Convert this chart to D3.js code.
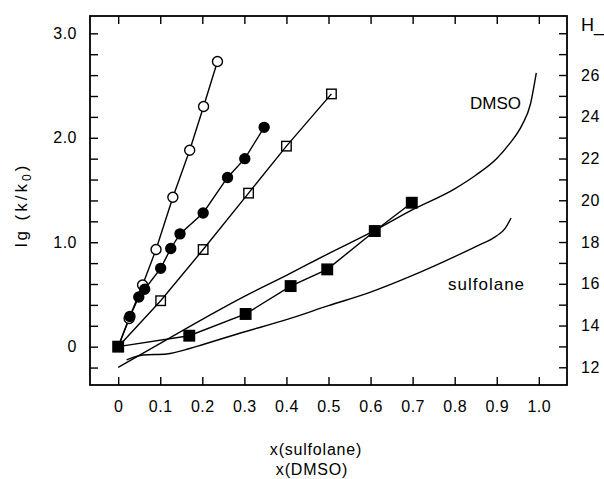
<!DOCTYPE html>
<html>
<head>
<meta charset="utf-8">
<script src="https://cdn.jsdelivr.net/npm/d3@7"></script>
<style>
  body { margin: 0; background: #fff; }
  text { font-family: "Liberation Sans", Arial, sans-serif; fill: #000; }
</style>
</head>
<body>
<div id="box"></div>
<script>
'use strict';

// axis ticks and labels
var xTicks = [0, 0.1, 0.2, 0.3, 0.4, 0.5, 0.6, 0.7, 0.8, 0.9, 1.0];
var xTickLabels = ["0", "0.1", "0.2", "0.3", "0.4", "0.5", "0.6", "0.7", "0.8", "0.9", "1.0"];
var yLeftTicks = [-0.2, 0, 0.2, 0.4, 0.6, 0.8, 1.0, 1.2, 1.4, 1.6, 1.8, 2.0, 2.2, 2.4, 2.6, 2.8, 3.0];
var yLeftMajor = [0, 1, 2, 3];
var yLeftLabels = ["0", "1.0", "2.0", "3.0"];
var yRightTicks = [12, 13, 14, 15, 16, 17, 18, 19, 20, 21, 22, 23, 24, 25, 26, 27, 28];
var yRightMajor = [12, 14, 16, 18, 20, 22, 24, 26];
var yRightLabels = ["12", "14", "16", "18", "20", "22", "24", "26"];

// lg(k/k0) series (left axis)
var openCircleX = [0, 0.026, 0.058, 0.090, 0.130, 0.170, 0.203, 0.236];
var openCircleY = [0, 0.27, 0.59, 0.93, 1.43, 1.88, 2.30, 2.73];
var filledCircleX = [0, 0.028, 0.049, 0.063, 0.101, 0.125, 0.147, 0.202, 0.260, 0.301, 0.347];
var filledCircleY = [0, 0.29, 0.475, 0.55, 0.75, 0.94, 1.08, 1.28, 1.62, 1.80, 2.10];
var openSquareX = [0, 0.101, 0.202, 0.310, 0.400, 0.507];
var openSquareY = [0, 0.44, 0.93, 1.47, 1.92, 2.42];
var filledSquareX = [0, 0.169, 0.303, 0.410, 0.497, 0.610, 0.698];
var filledSquareY = [0, 0.105, 0.313, 0.58, 0.74, 1.107, 1.378];

// H_ curves (right axis)
var hDmsoX = [0, 0.1, 0.2, 0.3, 0.4, 0.5, 0.6, 0.7, 0.8, 0.85, 0.9, 0.93, 0.96, 0.98, 0.994];
var hDmso = [12.0, 13.15, 14.3, 15.4, 16.4, 17.45, 18.45, 19.55, 20.55, 21.2, 22.0, 22.7, 23.6, 24.6, 26.1];
var hSulfolaneX = [0.02, 0.059, 0.115, 0.17, 0.2, 0.289, 0.4, 0.5, 0.6, 0.7, 0.8, 0.85, 0.9, 0.92, 0.934];
var hSulfolane = [12.36, 12.59, 12.64, 12.9, 13.08, 13.63, 14.28, 14.95, 15.6, 16.4, 17.3, 17.78, 18.3, 18.65, 19.15];

var margin = {top: 16, right: 37, bottom: 94, left: 90};
var width = 604 - margin.left - margin.right;
var height = 479 - margin.top - margin.bottom;

var svg = d3.select("#box")
  .append("svg")
    .attr("width", 604)
    .attr("height", 479)
  .append("g")
    .attr("transform", "translate(" + margin.left + "," + margin.top + ")");

var x = d3.scaleLinear().domain([-0.067, 1.067]).range([0, width]);
var y = d3.scaleLinear().domain([-0.367, 3.166]).range([height, 0]);
var yR = d3.scaleLinear().domain([11.152, 28.826]).range([height, 0]);

function labelOf(values, labels) {
  return function(d) {
    var i = values.findIndex(function(v) { return Math.abs(v - d) < 1e-6; });
    return i < 0 ? "" : labels[i];
  };
}

function styleAxis(g) {
  g.select(".domain").remove();
  g.selectAll(".tick line").attr("stroke", "#000").attr("stroke-width", 1.4);
  g.selectAll(".tick text")
    .style("font-family", '"Liberation Sans", Arial, sans-serif')
    .style("font-size", "16px")
    .style("letter-spacing", "0.5px")
    .attr("fill", "#000");
}

// bottom axis
svg.append("g")
  .attr("transform", "translate(0," + height + ")")
  .call(d3.axisBottom(x).tickValues(xTicks).tickSize(-8).tickPadding(16)
    .tickFormat(labelOf(xTicks, xTickLabels)))
  .call(styleAxis);

// top axis
svg.append("g")
  .call(d3.axisTop(x).tickValues(xTicks).tickSize(-8).tickFormat(""))
  .call(styleAxis);

// left axis
svg.append("g")
  .call(d3.axisLeft(y).tickValues(yLeftTicks).tickSize(-8).tickPadding(13)
    .tickFormat(labelOf(yLeftMajor, yLeftLabels)))
  .call(styleAxis);

// right axis
svg.append("g")
  .attr("transform", "translate(" + width + ",0)")
  .call(d3.axisRight(yR).tickValues(yRightTicks).tickSize(-8).tickPadding(14)
    .tickFormat(labelOf(yRightMajor, yRightLabels)))
  .call(styleAxis);

// frame
svg.append("rect")
  .attr("width", width)
  .attr("height", height)
  .attr("fill", "none")
  .attr("stroke", "#000")
  .attr("stroke-width", 1.8);

// H_ curves
var hLine = d3.line()
  .curve(d3.curveMonotoneX)
  .x(function(d) { return x(d[0]); })
  .y(function(d) { return yR(d[1]); });

svg.append("path")
  .datum(d3.zip(hDmsoX, hDmso))
  .attr("fill", "none")
  .attr("stroke", "#000")
  .attr("stroke-width", 1.4)
  .attr("d", hLine);

svg.append("path")
  .datum(d3.zip(hSulfolaneX, hSulfolane))
  .attr("fill", "none")
  .attr("stroke", "#000")
  .attr("stroke-width", 1.4)
  .attr("d", hLine);

// rate series
var kLine = d3.line()
  .x(function(d) { return x(d[0]); })
  .y(function(d) { return y(d[1]); });

var series = [
  {xs: openCircleX, ys: openCircleY, shape: "circle", fill: "#fff"},
  {xs: filledCircleX, ys: filledCircleY, shape: "circle", fill: "#000"},
  {xs: openSquareX, ys: openSquareY, shape: "square", fill: "none"},
  {xs: filledSquareX, ys: filledSquareY, shape: "square", fill: "#000"}
];

series.forEach(function(s) {
  svg.append("path")
    .datum(d3.zip(s.xs, s.ys))
    .attr("fill", "none")
    .attr("stroke", "#000")
    .attr("stroke-width", 1.4)
    .attr("d", kLine);
});

series.forEach(function(s) {
  // the shared origin point is only marked by the filled square
  var pts = d3.zip(s.xs, s.ys).filter(function(d, i) { return i > 0 || (s.fill === "#000" && s.shape === "square"); });
  if (s.shape === "circle") {
    svg.selectAll(null)
      .data(pts)
      .enter().append("circle")
        .attr("cx", function(d) { return x(d[0]); })
        .attr("cy", function(d) { return y(d[1]); })
        .attr("r", 5)
        .attr("fill", s.fill)
        .attr("stroke", "#000")
        .attr("stroke-width", 1.4);
  } else {
    var side = s.fill === "#000" ? 10.5 : 9.5;
    svg.selectAll(null)
      .data(pts)
      .enter().append("rect")
        .attr("x", function(d) { return x(d[0]) - side / 2; })
        .attr("y", function(d) { return y(d[1]) - side / 2; })
        .attr("width", side)
        .attr("height", side)
        .attr("fill", s.fill)
        .attr("stroke", "#000")
        .attr("stroke-width", 1.4);
  }
});

// curve labels
svg.append("text")
  .attr("x", 470 - margin.left)
  .attr("y", 109 - margin.top)
  .style("font-size", "17px")
  .text("DMSO");

svg.append("text")
  .attr("x", 448 - margin.left)
  .attr("y", 290 - margin.top)
  .style("font-size", "17px")
  .style("letter-spacing", "1px")
  .text("sulfolane");

// right axis title
svg.append("text")
  .attr("x", 581 - margin.left)
  .attr("y", 31 - margin.top)
  .style("font-size", "18px")
  .text("H_");

// left axis title
var yTitle = svg.append("text")
  .attr("transform", "translate(" + (26.5 - margin.left) + "," + (205 - margin.top) + ") rotate(-90)")
  .style("text-anchor", "middle")
  .style("font-size", "17px")
  .style("letter-spacing", "3px");
yTitle.append("tspan").text("lg (k/k");
yTitle.append("tspan").attr("dy", 4).style("font-size", "12px").text("0");
yTitle.append("tspan").attr("dy", -4).text(")");

// bottom axis title, two lines
svg.append("text")
  .attr("x", 316 - margin.left)
  .attr("y", 455 - margin.top)
  .style("text-anchor", "middle")
  .style("font-size", "16px")
  .style("letter-spacing", "0.8px")
  .text("x(sulfolane)");

svg.append("text")
  .attr("x", 312 - margin.left)
  .attr("y", 475 - margin.top)
  .style("text-anchor", "middle")
  .style("font-size", "16px")
  .style("letter-spacing", "0.8px")
  .text("x(DMSO)");
</script>
</body>
</html>
